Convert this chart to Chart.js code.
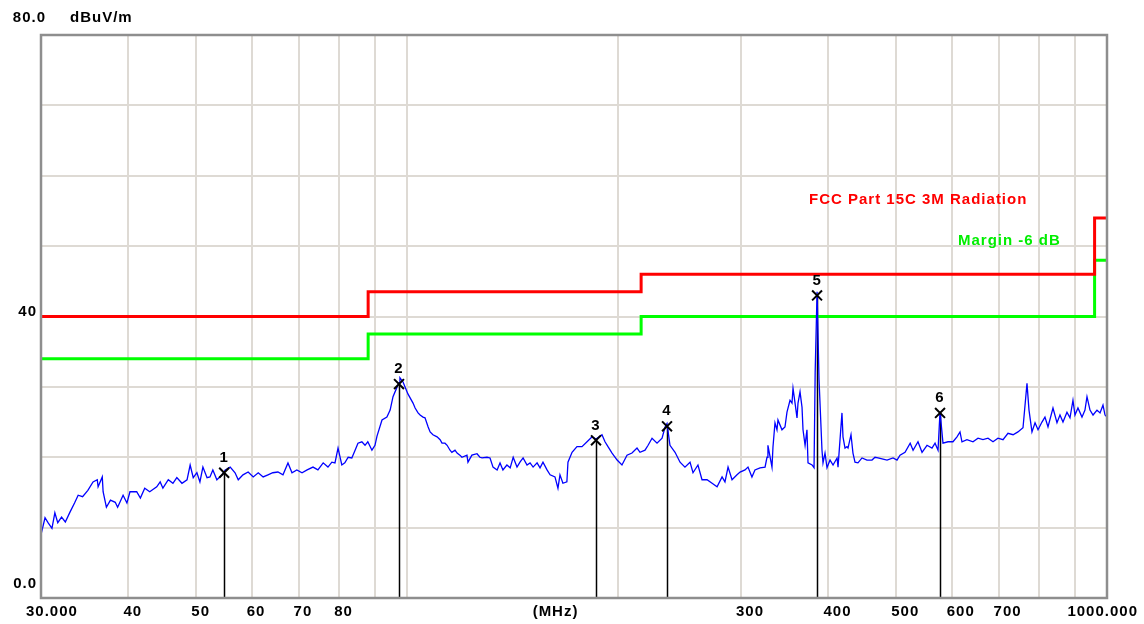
<!DOCTYPE html>
<html>
<head>
<meta charset="utf-8">
<script src="https://cdn.jsdelivr.net/npm/chart.js@4/dist/chart.umd.min.js"></script>
<style>
body{margin:0;background:#fff;}
#wrap{width:1144px;height:624px;}
</style>
</head>
<body>
<div id="wrap"><canvas id="emiChart" width="1144" height="624"></canvas></div>
<script>

// scan trace, MHz / dBuV/m
const scanFreq=[30.0,30.4,30.7,31.1,31.4,31.7,32.1,32.5,33.0,33.5,33.9,34.4,35.0,35.6,36.1,36.2,36.7,36.8,37.2,37.7,
38.3,38.6,39.3,39.8,40.2,41.1,41.6,42.2,42.9,43.9,44.4,44.8,45.6,46.3,46.9,47.7,48.5,49.0,49.5,50.1,
50.6,51.1,51.8,52.3,52.8,53.5,54.4,55.0,55.9,56.8,57.4,58.3,59.3,60.3,61.3,62.3,63.3,64.3,65.4,66.5,
67.6,68.5,69.6,70.8,72.0,73.4,74.6,75.9,77.1,78.1,78.9,79.7,80.7,81.5,82.4,83.4,84.3,85.1,86.2,87.1,
87.9,89.1,90.0,90.6,92.1,93.6,94.6,95.5,96.8,97.4,97.7,98.7,100.3,102.0,102.7,103.7,104.4,105.4,106.1,107.2,
107.9,108.9,110.4,111.5,112.2,113.3,114.1,115.2,115.9,117.1,117.9,119.0,119.8,121.8,122.2,123.8,125.9,127.1,128.0,130.1,
131.4,132.7,134.5,135.8,137.1,138.9,140.4,141.8,143.6,145.0,146.5,148.4,149.9,151.4,153.4,154.9,156.4,158.5,160.1,162.7,
164.3,165.4,167.0,169.2,169.8,172.1,174.9,177.8,180.8,183.8,186.2,189.9,191.8,193.7,196.3,199.6,202.8,206.2,209.6,213.1,
215.2,218.8,221.0,223.9,227.6,231.4,233.7,235.2,237.5,241.5,245.5,249.5,253.7,256.2,260.4,263.9,268.3,272.8,277.3,281.9,
284.6,287.5,291.3,296.1,299.1,304.0,307.0,311.0,314.1,319.4,324.7,326.8,327.8,332.2,333.3,335.5,337.7,338.8,343.3,346.7,
349.0,352.5,354.8,356.0,358.4,360.7,361.9,364.3,366.7,367.9,370.4,372.7,374.0,379.0,381.5,382.9,385.3,387.8,391.6,392.9,
395.5,398.1,402.1,406.1,411.5,412.8,418.2,419.6,422.4,425.1,426.6,430.8,433.6,436.5,440.8,446.7,454.0,461.6,466.2,470.8,
485.0,494.7,501.2,506.2,514.6,523.4,528.4,537.0,544.2,553.2,562.3,568.0,573.6,577.4,583.0,592.7,602.5,610.5,616.6,620.6,
630.9,643.5,654.2,665.0,676.1,687.3,698.6,710.3,722.0,734.2,746.1,758.6,768.6,773.7,781.3,789.2,797.0,807.4,815.4,823.6,
837.2,848.3,856.7,865.2,876.6,885.4,894.1,900.0,908.9,921.0,930.1,936.3,945.6,955.1,967.6,977.3,986.9,993.5,1000];

const scanLevel=[9.0,11.4,10.7,9.9,12.1,10.7,11.5,10.8,12.2,13.5,14.6,14.4,15.3,16.5,16.8,15.8,17.2,15.1,12.9,13.9,
13.6,12.9,14.6,13.5,15.1,15.1,14.2,15.6,15.1,15.8,16.5,15.6,16.8,16.3,17.1,16.3,16.8,18.9,17.1,17.8,
16.5,18.6,17.1,17.2,18.2,16.8,17.5,18.2,18.6,17.8,16.8,17.5,17.9,17.2,17.8,17.2,17.5,17.8,17.9,17.5,
19.2,17.8,18.2,17.8,18.2,18.6,18.2,19.2,18.6,19.3,19.2,21.3,18.9,19.2,20.0,19.9,21.0,22.0,22.2,21.7,
22.2,21.0,21.7,23.0,25.3,25.7,26.7,28.6,30.0,30.6,31.3,30.7,29.0,27.7,27.0,26.3,26.0,25.7,25.6,24.3,
23.6,23.2,22.9,22.5,22.0,22.0,21.7,21.0,20.7,21.0,20.6,20.3,20.0,20.3,19.3,20.3,20.5,20.0,19.9,20.0,
19.9,18.6,18.2,19.2,18.2,18.9,18.5,20.0,18.6,19.3,19.9,18.9,19.2,18.6,19.2,18.5,19.3,18.2,17.5,17.2,
15.6,17.5,16.3,16.5,19.3,20.7,21.5,21.5,22.2,22.9,22.6,23.2,22.2,21.5,20.6,19.6,18.9,20.3,20.6,21.3,
20.7,21.0,21.7,22.7,22.0,22.7,24.3,24.8,21.7,20.7,19.3,18.6,19.3,17.8,18.9,16.8,16.8,16.3,15.8,17.2,
16.5,18.6,16.8,17.5,17.9,18.2,18.6,17.2,18.2,18.5,18.6,20.0,21.7,18.6,21.5,24.9,23.9,25.3,23.9,24.3,
26.4,28.1,27.7,29.8,27.7,25.6,27.7,29.3,27.1,23.9,21.7,23.9,19.2,18.9,18.5,32.0,43.5,31.0,21.0,19.2,
20.6,18.5,19.6,18.9,19.9,18.6,26.3,22.9,21.3,21.5,21.3,23.2,20.6,19.3,19.2,19.9,19.6,19.6,20.0,19.9,
19.6,19.9,19.6,20.3,20.7,22.0,21.0,22.2,20.7,21.7,21.3,22.0,21.0,26.5,22.0,22.2,22.2,22.9,23.6,22.2,
22.5,22.2,22.7,22.5,22.7,22.2,22.7,22.5,23.4,23.2,23.6,24.2,30.5,26.7,23.6,24.9,23.9,25.0,25.7,24.3,
27.0,24.9,26.0,25.0,26.4,25.6,28.1,26.0,27.0,25.7,26.7,28.6,26.7,26.0,26.7,26.3,27.4,26.0,25.7];

// FCC Part 15 class B, 3 m limit and the -6 dB margin
const limitFreq=[30,88,88,216,216,960,960,1000];
const limitLevel=[40,40,43.5,43.5,46,46,54,54];
const marginLevel=[34,34,37.5,37.5,40,40,48,48];

// peak markers
const markerNames=["1","2","3","4","5","6"];
const markerFreq=[54.8,97.4,186.2,235.2,385.3,577.4];
const markerLevel=[17.8,30.4,22.4,24.4,43.0,26.3];

// axis ticks
const gridFreq=[40,50,60,70,80,90,100,200,300,400,500,600,700,800,900];
const xTickValues=[40,50,60,70,80,300,400,500,600,700];
const yTickValues=[0,40,80];
const yTickText=["0.0","40","80.0"];

const FONT='bold 15px "Liberation Sans"';

const toPoints=(xs,ys)=>xs.map((x,i)=>({x:x,y:ys[i]}));

const stemPlugin={
    id:"stems",
    beforeDatasetsDraw(chart){
        const c=chart.ctx, xs=chart.scales.x, ys=chart.scales.y;
        c.save();
        c.strokeStyle="#000";
        c.lineWidth=1.5;
        markerFreq.forEach((f,i)=>{
            const px=Math.round(xs.getPixelForValue(f))+0.5;
            c.beginPath();
            c.moveTo(px,ys.getPixelForValue(markerLevel[i]));
            c.lineTo(px,chart.chartArea.bottom);
            c.stroke();
        });
        c.restore();
    }
};

const textPlugin={
    id:"texts",
    afterDraw(chart){
        const c=chart.ctx, a=chart.chartArea, xs=chart.scales.x, ys=chart.scales.y;
        c.save();

        // plot frame
        c.strokeStyle="#8e8e8e";
        c.lineWidth=2.5;
        c.strokeRect(a.left,a.top,a.right-a.left,a.bottom-a.top);

        c.font=FONT;
        c.letterSpacing="1px";
        c.fillStyle="#000";
        c.textBaseline="middle";

        // y labels
        yTickValues.forEach((v,i)=>{
            let y=ys.getPixelForValue(v), x=a.left-4;
            if(v===80){y-=17;x=a.left+5;}
            else if(v===0){y-=14;}
            else{y-=5;}
            c.textAlign="right";
            c.fillText(yTickText[i],x,y);
        });
        c.textAlign="left";
        c.fillText("dBuV/m",a.left+29,ys.getPixelForValue(80)-17);

        // x labels
        const ly=a.bottom+14;
        c.textAlign="left";
        xTickValues.forEach(v=>{
            c.fillText(String(v),xs.getPixelForValue(v)-5,ly);
        });
        c.fillText("30.000",xs.getPixelForValue(30)-15,ly);
        c.textAlign="right";
        c.fillText("1000.000",xs.getPixelForValue(1000)+31,ly);
        c.textAlign="center";
        c.fillText("(MHz)",xs.getPixelForValue(163),ly);

        // limit names
        c.textAlign="left";
        c.fillStyle="#ff0000";
        c.fillText("FCC Part 15C 3M Radiation",a.right-298,ys.getPixelForValue(54)-18);
        c.fillStyle="#00ee00";
        c.fillText("Margin -6 dB",a.right-149,ys.getPixelForValue(48)-19);

        // marker numbers
        c.fillStyle="#000";
        c.textAlign="center";
        markerFreq.forEach((f,i)=>{
            c.fillText(markerNames[i],xs.getPixelForValue(f),ys.getPixelForValue(markerLevel[i])-15);
        });
        c.restore();
    }
};

new Chart(document.getElementById("emiChart"),{
    type:"scatter",
    data:{
        datasets:[
            {
                data:toPoints(markerFreq,markerLevel),
                showLine:false,
                pointStyle:"crossRot",
                pointRadius:7,
                pointBorderWidth:2,
                pointBorderColor:"#000",
                order:0
            },
            {
                data:toPoints(scanFreq,scanLevel),
                showLine:true,
                borderColor:"#0000ff",
                borderWidth:1.3,
                pointRadius:0,
                order:1
            },
            {
                data:toPoints(limitFreq,limitLevel),
                showLine:true,
                borderColor:"#ff0000",
                borderWidth:3,
                pointRadius:0,
                order:2
            },
            {
                data:toPoints(limitFreq,marginLevel),
                showLine:true,
                borderColor:"#00ff00",
                borderWidth:3,
                pointRadius:0,
                order:3
            }
        ]
    },
    options:{
        responsive:false,
        animation:false,
        layout:{padding:{left:41,top:35,right:37,bottom:26}},
        plugins:{legend:{display:false},tooltip:{enabled:false}},
        scales:{
            x:{
                type:"logarithmic",
                min:30,
                max:1000,
                afterBuildTicks:(scale)=>{scale.ticks=gridFreq.map(v=>({value:v}));},
                ticks:{display:false},
                grid:{color:"#dedad4",lineWidth:2,drawTicks:false},
                border:{display:false}
            },
            y:{
                min:0,
                max:80,
                ticks:{display:false,stepSize:10},
                grid:{color:"#dedad4",lineWidth:2,drawTicks:false},
                border:{display:false}
            }
        }
    },
    plugins:[stemPlugin,textPlugin]
});
</script>
</body>
</html>
